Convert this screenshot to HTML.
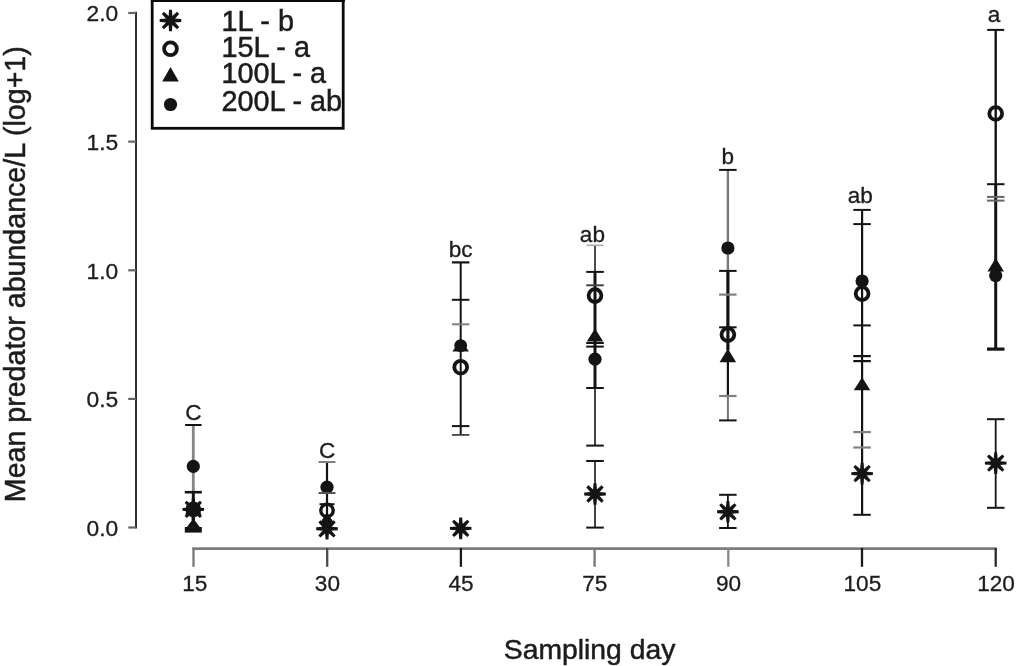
<!DOCTYPE html>
<html><head><meta charset="utf-8"><title>Mean predator abundance by sampling day</title>
<style>
html,body{margin:0;padding:0;background:#fff;}
body{width:1024px;height:666px;overflow:hidden;}
svg{display:block;will-change:transform;}
svg text{font-family:"Liberation Sans",sans-serif;fill:#1c1c1c;stroke:#1c1c1c;stroke-width:0.3px;}
svg text.big{stroke-width:0.5px;}
</style></head><body>
<svg width="1024" height="666" viewBox="0 0 1024 666">
<rect x="0" y="0" width="1024" height="666" fill="#ffffff"/>
<line x1="136" y1="11.8" x2="136" y2="528.6" stroke="#303030" stroke-width="2"/>
<line x1="128.2" y1="13" x2="136" y2="13" stroke="#666" stroke-width="2.2"/>
<text x="118.2" y="21.4" font-size="22.8" text-anchor="end" >2.0</text>
<line x1="128.2" y1="141.6" x2="136" y2="141.6" stroke="#666" stroke-width="2.2"/>
<text x="118.2" y="150.0" font-size="22.8" text-anchor="end" >1.5</text>
<line x1="128.2" y1="270.3" x2="136" y2="270.3" stroke="#666" stroke-width="2.2"/>
<text x="118.2" y="278.7" font-size="22.8" text-anchor="end" >1.0</text>
<line x1="128.2" y1="398.9" x2="136" y2="398.9" stroke="#666" stroke-width="2.2"/>
<text x="118.2" y="407.3" font-size="22.8" text-anchor="end" >0.5</text>
<line x1="128.2" y1="527.5" x2="136" y2="527.5" stroke="#666" stroke-width="2.2"/>
<text x="118.2" y="535.9" font-size="22.8" text-anchor="end" >0.0</text>
<line x1="192.3" y1="548.7" x2="996.7" y2="548.7" stroke="#7c7c7c" stroke-width="2.8"/>
<line x1="193.5" y1="548" x2="193.5" y2="566.8" stroke="#777" stroke-width="2.3"/>
<text x="194.7" y="591.2" font-size="22.6" text-anchor="middle" >15</text>
<line x1="327.2" y1="548" x2="327.2" y2="566.8" stroke="#4a4a4a" stroke-width="2.3"/>
<text x="327.4" y="591.2" font-size="22.6" text-anchor="middle" >30</text>
<line x1="460.9" y1="548" x2="460.9" y2="566.8" stroke="#1a1a1a" stroke-width="2.3"/>
<text x="461.1" y="591.2" font-size="22.6" text-anchor="middle" >45</text>
<line x1="594.6" y1="548" x2="594.6" y2="566.8" stroke="#777" stroke-width="2.3"/>
<text x="594.8" y="591.2" font-size="22.6" text-anchor="middle" >75</text>
<line x1="728.3" y1="548" x2="728.3" y2="566.8" stroke="#888" stroke-width="2.3"/>
<text x="728.5" y="591.2" font-size="22.6" text-anchor="middle" >90</text>
<line x1="862.0" y1="548" x2="862.0" y2="566.8" stroke="#1a1a1a" stroke-width="2.3"/>
<text x="862.4" y="591.2" font-size="22.6" text-anchor="middle" >105</text>
<line x1="995.7" y1="548" x2="995.7" y2="566.8" stroke="#2a2a2a" stroke-width="2.3"/>
<text x="996.1" y="591.2" font-size="22.6" text-anchor="middle" >120</text>
<text x="589.6" y="658.7" font-size="28.3" text-anchor="middle"  class="big">Sampling day</text>
<text class="big" transform="translate(24.7,274.2) rotate(-90)" font-size="28.6" text-anchor="middle">Mean predator abundance/L (log+1)</text>
<rect x="152.2" y="-3" width="191" height="131.3" fill="#fff" stroke="#0a0a0a" stroke-width="2.8"/>
<rect x="150.9" y="0" width="194" height="2" fill="#0a0a0a"/>
<g fill="#141414"><polygon points="170.50,22.75 170.50,18.25 181.30,19.05 181.30,21.95"/><polygon points="168.91,22.09 172.09,18.91 179.16,27.11 177.11,29.16"/><polygon points="168.25,20.50 172.75,20.50 171.95,31.30 169.05,31.30"/><polygon points="168.91,18.91 172.09,22.09 163.89,29.16 161.84,27.11"/><polygon points="170.50,18.25 170.50,22.75 159.70,21.95 159.70,19.05"/><polygon points="172.09,18.91 168.91,22.09 161.84,13.89 163.89,11.84"/><polygon points="172.75,20.50 168.25,20.50 169.05,9.70 171.95,9.70"/><polygon points="172.09,22.09 168.91,18.91 177.11,11.84 179.16,13.89"/><circle cx="170.5" cy="20.5" r="4.0"/></g>
<circle cx="170.5" cy="48.8" r="6.4" fill="none" stroke="#141414" stroke-width="3.8"/>
<polygon points="162.2,81.5 178.8,81.5 170.5,67.0" fill="#141414"/>
<circle cx="170.5" cy="104.5" r="6.6" fill="#141414"/>
<text x="221.4" y="30.5" font-size="28.8" text-anchor="start"  class="big">1L - b</text>
<text x="221.4" y="57.0" font-size="28.8" text-anchor="start"  class="big">15L - a</text>
<text x="221.4" y="83.3" font-size="28.8" text-anchor="start"  class="big">100L - a</text>
<text x="221.4" y="110.8" font-size="28.8" text-anchor="start"  class="big">200L - ab</text>
<text x="193.3" y="419.8" font-size="22.6" text-anchor="middle" >C</text>
<line x1="193.3" y1="425.0" x2="193.3" y2="492.0" stroke="#858585" stroke-width="2.8"/>
<line x1="193.3" y1="492.0" x2="193.3" y2="530.0" stroke="#141414" stroke-width="3"/>
<line x1="185.1" y1="425.0" x2="201.6" y2="425.0" stroke="#141414" stroke-width="2"/>
<circle cx="193.3" cy="466.4" r="6.6" fill="#141414"/>
<line x1="184.8" y1="492.2" x2="201.8" y2="492.2" stroke="#141414" stroke-width="2.6"/>
<g fill="#141414"><polygon points="193.30,511.65 193.30,507.15 204.10,507.95 204.10,510.85"/><polygon points="191.71,510.99 194.89,507.81 201.96,516.01 199.91,518.06"/><polygon points="191.05,509.40 195.55,509.40 194.75,520.20 191.85,520.20"/><polygon points="191.71,507.81 194.89,510.99 186.69,518.06 184.64,516.01"/><polygon points="193.30,507.15 193.30,511.65 182.50,510.85 182.50,507.95"/><polygon points="194.89,507.81 191.71,510.99 184.64,502.79 186.69,500.74"/><polygon points="195.55,509.40 191.05,509.40 191.85,498.60 194.75,498.60"/><polygon points="194.89,510.99 191.71,507.81 199.91,500.74 201.96,502.79"/><circle cx="193.3" cy="509.4" r="4.0"/></g>
<circle cx="193.3" cy="509.4" r="5.6" fill="none" stroke="#141414" stroke-width="4.5"/>
<polygon points="185.1,514.5 201.6,514.5 193.3,500.5" fill="#141414"/>
<polygon points="185.8,528.5 200.8,528.5 193.3,518.5" fill="#141414"/>
<rect x="184.8" y="527" width="17" height="5.6" fill="#141414"/>
<text x="327.2" y="457.8" font-size="22.6" text-anchor="middle" >C</text>
<line x1="327.0" y1="462.0" x2="327.0" y2="520.0" stroke="#141414" stroke-width="2.2"/>
<line x1="318.5" y1="462.0" x2="335.5" y2="462.0" stroke="#808080" stroke-width="2"/>
<circle cx="327.0" cy="487.2" r="6.6" fill="#141414"/>
<line x1="318.5" y1="493.0" x2="335.5" y2="493.0" stroke="#555" stroke-width="2"/>
<line x1="319.5" y1="504.2" x2="334.5" y2="504.2" stroke="#141414" stroke-width="2"/>
<circle cx="327.0" cy="510.5" r="6.2" fill="none" stroke="#141414" stroke-width="3.4"/>
<polygon points="319.5,524.0 334.5,524.0 327.0,512.0" fill="#141414"/>
<g fill="#141414"><polygon points="327.00,531.05 327.00,526.55 337.80,527.35 337.80,530.25"/><polygon points="325.41,530.39 328.59,527.21 335.66,535.41 333.61,537.46"/><polygon points="324.75,528.80 329.25,528.80 328.45,539.60 325.55,539.60"/><polygon points="325.41,527.21 328.59,530.39 320.39,537.46 318.34,535.41"/><polygon points="327.00,526.55 327.00,531.05 316.20,530.25 316.20,527.35"/><polygon points="328.59,527.21 325.41,530.39 318.34,522.19 320.39,520.14"/><polygon points="329.25,528.80 324.75,528.80 325.55,518.00 328.45,518.00"/><polygon points="328.59,530.39 325.41,527.21 333.61,520.14 335.66,522.19"/><circle cx="327.0" cy="528.8" r="4.0"/></g>
<text x="460.7" y="256.7" font-size="22.6" text-anchor="middle" >bc</text>
<line x1="460.7" y1="262.4" x2="460.7" y2="435.0" stroke="#141414" stroke-width="2"/>
<line x1="451.9" y1="262.4" x2="469.4" y2="262.4" stroke="#141414" stroke-width="2.2"/>
<line x1="451.9" y1="299.8" x2="469.4" y2="299.8" stroke="#141414" stroke-width="2"/>
<line x1="451.9" y1="324.3" x2="469.4" y2="324.3" stroke="#808080" stroke-width="2"/>
<circle cx="460.7" cy="345.6" r="6.4" fill="#141414"/>
<polygon points="452.4,351.6 468.9,351.6 460.7,339.6" fill="#141414"/>
<circle cx="460.7" cy="367.2" r="6.4" fill="none" stroke="#141414" stroke-width="3.8"/>
<line x1="451.9" y1="426.1" x2="469.4" y2="426.1" stroke="#141414" stroke-width="2"/>
<line x1="451.9" y1="434.9" x2="469.4" y2="434.9" stroke="#444" stroke-width="1.8"/>
<g fill="#141414"><polygon points="460.70,530.65 460.70,526.15 471.50,526.95 471.50,529.85"/><polygon points="459.11,529.99 462.29,526.81 469.36,535.01 467.31,537.06"/><polygon points="458.45,528.40 462.95,528.40 462.15,539.20 459.25,539.20"/><polygon points="459.11,526.81 462.29,529.99 454.09,537.06 452.04,535.01"/><polygon points="460.70,526.15 460.70,530.65 449.90,529.85 449.90,526.95"/><polygon points="462.29,526.81 459.11,529.99 452.04,521.79 454.09,519.74"/><polygon points="462.95,528.40 458.45,528.40 459.25,517.60 462.15,517.60"/><polygon points="462.29,529.99 459.11,526.81 467.31,519.74 469.36,521.79"/><circle cx="460.7" cy="528.4" r="4.0"/></g>
<text x="592.4" y="242.0" font-size="22.6" text-anchor="middle" >ab</text>
<line x1="595.0" y1="245.0" x2="595.0" y2="272.0" stroke="#3a3a3a" stroke-width="1.8"/>
<line x1="595.0" y1="272.0" x2="595.0" y2="388.0" stroke="#141414" stroke-width="3"/>
<line x1="595.0" y1="388.0" x2="595.0" y2="445.6" stroke="#141414" stroke-width="1.6"/>
<line x1="595.0" y1="461.0" x2="595.0" y2="527.6" stroke="#141414" stroke-width="1.6"/>
<line x1="586.5" y1="245.3" x2="603.5" y2="245.3" stroke="#aaa" stroke-width="1.6"/>
<line x1="586.2" y1="271.9" x2="603.8" y2="271.9" stroke="#141414" stroke-width="2"/>
<line x1="586.2" y1="285.3" x2="603.8" y2="285.3" stroke="#444" stroke-width="2"/>
<circle cx="595.0" cy="295.6" r="6.4" fill="none" stroke="#141414" stroke-width="3.8"/>
<polygon points="586.8,341.6 603.2,341.6 595.0,328.6" fill="#141414"/>
<line x1="586.2" y1="343.0" x2="603.8" y2="343.0" stroke="#141414" stroke-width="2"/>
<line x1="586.2" y1="346.6" x2="603.8" y2="346.6" stroke="#141414" stroke-width="2"/>
<circle cx="595.0" cy="359.2" r="6.6" fill="#141414"/>
<line x1="586.2" y1="388.0" x2="603.8" y2="388.0" stroke="#141414" stroke-width="2"/>
<line x1="586.2" y1="445.6" x2="603.8" y2="445.6" stroke="#141414" stroke-width="2"/>
<line x1="586.2" y1="461.0" x2="603.8" y2="461.0" stroke="#141414" stroke-width="2"/>
<g fill="#141414"><polygon points="595.00,496.25 595.00,491.75 605.80,492.55 605.80,495.45"/><polygon points="593.41,495.59 596.59,492.41 603.66,500.61 601.61,502.66"/><polygon points="592.75,494.00 597.25,494.00 596.45,504.80 593.55,504.80"/><polygon points="593.41,492.41 596.59,495.59 588.39,502.66 586.34,500.61"/><polygon points="595.00,491.75 595.00,496.25 584.20,495.45 584.20,492.55"/><polygon points="596.59,492.41 593.41,495.59 586.34,487.39 588.39,485.34"/><polygon points="597.25,494.00 592.75,494.00 593.55,483.20 596.45,483.20"/><polygon points="596.59,495.59 593.41,492.41 601.61,485.34 603.66,487.39"/><circle cx="595.0" cy="494.0" r="4.0"/></g>
<line x1="586.2" y1="527.6" x2="603.8" y2="527.6" stroke="#141414" stroke-width="2"/>
<text x="727.9" y="164.2" font-size="22.6" text-anchor="middle" >b</text>
<line x1="727.9" y1="170.0" x2="727.9" y2="271.0" stroke="#7a7a7a" stroke-width="2.4"/>
<line x1="727.9" y1="271.0" x2="727.9" y2="350.0" stroke="#141414" stroke-width="3.2"/>
<line x1="727.9" y1="350.0" x2="727.9" y2="396.0" stroke="#141414" stroke-width="2.2"/>
<line x1="727.9" y1="396.0" x2="727.9" y2="420.4" stroke="#777" stroke-width="2"/>
<line x1="719.1" y1="169.9" x2="736.6" y2="169.9" stroke="#141414" stroke-width="2"/>
<circle cx="727.9" cy="248.0" r="6.6" fill="#141414"/>
<line x1="719.1" y1="270.9" x2="736.6" y2="270.9" stroke="#141414" stroke-width="2"/>
<line x1="719.1" y1="294.6" x2="736.6" y2="294.6" stroke="#808080" stroke-width="2.2"/>
<line x1="719.1" y1="327.3" x2="736.6" y2="327.3" stroke="#141414" stroke-width="2"/>
<circle cx="727.9" cy="334.6" r="6.4" fill="none" stroke="#141414" stroke-width="3.8"/>
<polygon points="719.6,362.3 736.1,362.3 727.9,348.5" fill="#141414"/>
<line x1="719.1" y1="396.0" x2="736.6" y2="396.0" stroke="#808080" stroke-width="2.2"/>
<line x1="719.1" y1="420.4" x2="736.6" y2="420.4" stroke="#141414" stroke-width="2"/>
<line x1="727.9" y1="494.8" x2="727.9" y2="528.0" stroke="#141414" stroke-width="1.8"/>
<line x1="719.1" y1="494.8" x2="736.6" y2="494.8" stroke="#141414" stroke-width="2"/>
<g fill="#141414"><polygon points="727.90,514.05 727.90,509.55 738.70,510.35 738.70,513.25"/><polygon points="726.31,513.39 729.49,510.21 736.56,518.41 734.51,520.46"/><polygon points="725.65,511.80 730.15,511.80 729.35,522.60 726.45,522.60"/><polygon points="726.31,510.21 729.49,513.39 721.29,520.46 719.24,518.41"/><polygon points="727.90,509.55 727.90,514.05 717.10,513.25 717.10,510.35"/><polygon points="729.49,510.21 726.31,513.39 719.24,505.19 721.29,503.14"/><polygon points="730.15,511.80 725.65,511.80 726.45,501.00 729.35,501.00"/><polygon points="729.49,513.39 726.31,510.21 734.51,503.14 736.56,505.19"/><circle cx="727.9" cy="511.8" r="4.0"/></g>
<line x1="719.1" y1="528.0" x2="736.6" y2="528.0" stroke="#141414" stroke-width="2"/>
<text x="860.3" y="202.9" font-size="22.6" text-anchor="middle" >ab</text>
<line x1="862.1" y1="209.9" x2="862.1" y2="514.8" stroke="#141414" stroke-width="2.2"/>
<line x1="853.3" y1="209.9" x2="870.8" y2="209.9" stroke="#141414" stroke-width="2"/>
<line x1="853.3" y1="224.1" x2="870.8" y2="224.1" stroke="#141414" stroke-width="2"/>
<circle cx="862.1" cy="281.0" r="6.6" fill="#141414"/>
<circle cx="862.1" cy="293.6" r="6.4" fill="none" stroke="#141414" stroke-width="3.8"/>
<line x1="853.3" y1="325.4" x2="870.8" y2="325.4" stroke="#141414" stroke-width="2"/>
<line x1="853.3" y1="356.1" x2="870.8" y2="356.1" stroke="#141414" stroke-width="2.2"/>
<line x1="853.3" y1="361.1" x2="870.8" y2="361.1" stroke="#141414" stroke-width="2.2"/>
<polygon points="853.8,390.3 870.3,390.3 862.1,377.3" fill="#141414"/>
<line x1="853.3" y1="432.1" x2="870.8" y2="432.1" stroke="#808080" stroke-width="2.2"/>
<line x1="853.3" y1="447.5" x2="870.8" y2="447.5" stroke="#808080" stroke-width="2.2"/>
<g fill="#141414"><polygon points="862.10,475.85 862.10,471.35 872.90,472.15 872.90,475.05"/><polygon points="860.51,475.19 863.69,472.01 870.76,480.21 868.71,482.26"/><polygon points="859.85,473.60 864.35,473.60 863.55,484.40 860.65,484.40"/><polygon points="860.51,472.01 863.69,475.19 855.49,482.26 853.44,480.21"/><polygon points="862.10,471.35 862.10,475.85 851.30,475.05 851.30,472.15"/><polygon points="863.69,472.01 860.51,475.19 853.44,466.99 855.49,464.94"/><polygon points="864.35,473.60 859.85,473.60 860.65,462.80 863.55,462.80"/><polygon points="863.69,475.19 860.51,472.01 868.71,464.94 870.76,466.99"/><circle cx="862.1" cy="473.6" r="4.0"/></g>
<line x1="853.3" y1="514.8" x2="870.8" y2="514.8" stroke="#141414" stroke-width="2"/>
<text x="994.1" y="22.4" font-size="22.6" text-anchor="middle" >a</text>
<line x1="995.7" y1="29.9" x2="995.7" y2="184.0" stroke="#141414" stroke-width="2.4"/>
<line x1="995.7" y1="184.0" x2="995.7" y2="349.1" stroke="#141414" stroke-width="3"/>
<line x1="987.2" y1="29.9" x2="1004.2" y2="29.9" stroke="#141414" stroke-width="2"/>
<circle cx="995.7" cy="113.5" r="6.4" fill="none" stroke="#141414" stroke-width="3.8"/>
<line x1="987.0" y1="184.2" x2="1004.5" y2="184.2" stroke="#141414" stroke-width="2"/>
<line x1="987.0" y1="196.9" x2="1004.5" y2="196.9" stroke="#666" stroke-width="2"/>
<line x1="987.0" y1="200.6" x2="1004.5" y2="200.6" stroke="#666" stroke-width="2"/>
<polygon points="987.5,271.5 1004.0,271.5 995.7,258.0" fill="#141414"/>
<circle cx="995.7" cy="275.6" r="6.6" fill="#141414"/>
<line x1="987.0" y1="349.1" x2="1004.5" y2="349.1" stroke="#141414" stroke-width="3.2"/>
<line x1="995.7" y1="419.2" x2="995.7" y2="507.8" stroke="#141414" stroke-width="1.8"/>
<line x1="987.0" y1="419.2" x2="1004.5" y2="419.2" stroke="#141414" stroke-width="2"/>
<g fill="#141414"><polygon points="995.70,465.35 995.70,460.85 1006.50,461.65 1006.50,464.55"/><polygon points="994.11,464.69 997.29,461.51 1004.36,469.71 1002.31,471.76"/><polygon points="993.45,463.10 997.95,463.10 997.15,473.90 994.25,473.90"/><polygon points="994.11,461.51 997.29,464.69 989.09,471.76 987.04,469.71"/><polygon points="995.70,460.85 995.70,465.35 984.90,464.55 984.90,461.65"/><polygon points="997.29,461.51 994.11,464.69 987.04,456.49 989.09,454.44"/><polygon points="997.95,463.10 993.45,463.10 994.25,452.30 997.15,452.30"/><polygon points="997.29,464.69 994.11,461.51 1002.31,454.44 1004.36,456.49"/><circle cx="995.7" cy="463.1" r="4.0"/></g>
<line x1="987.0" y1="507.8" x2="1004.5" y2="507.8" stroke="#141414" stroke-width="2"/>
</svg>
</body></html>
